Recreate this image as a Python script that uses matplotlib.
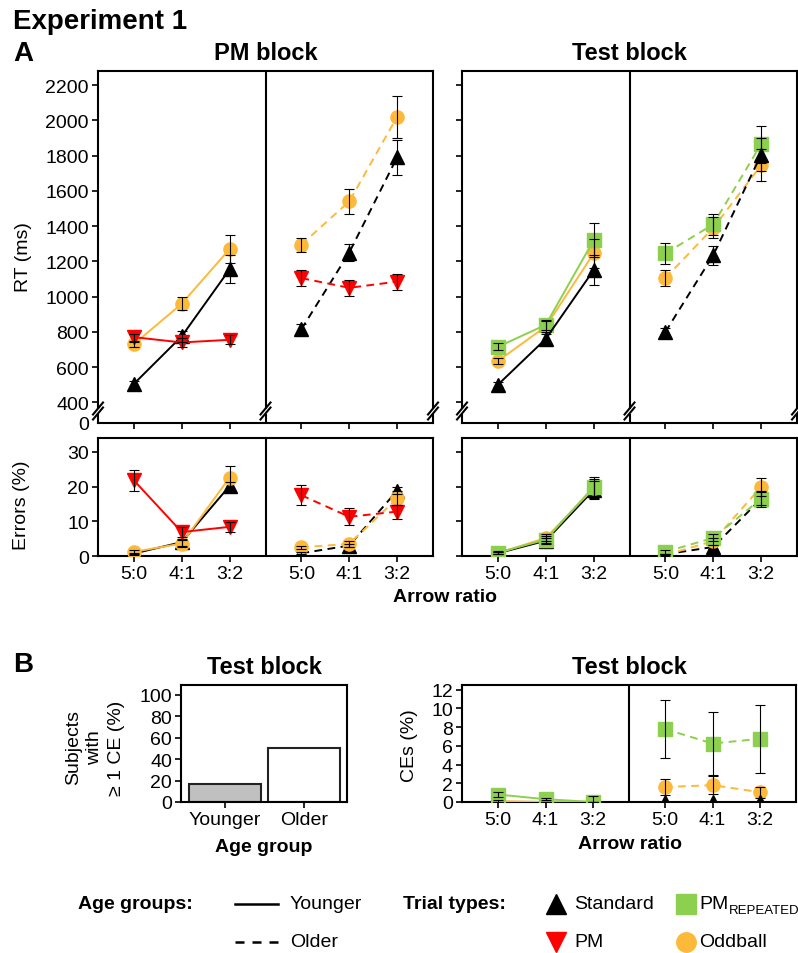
import matplotlib
matplotlib.use("Agg")
import matplotlib.pyplot as plt
from matplotlib.lines import Line2D
from matplotlib.patches import Rectangle

plt.rcParams["font.family"] = ["Liberation Sans", "DejaVu Sans"]

W, H = 798, 954

# colours
BLACK = "#000000"
RED = "#FF0000"
ORANGE = "#FDB93A"
GREEN = "#8DCF4E"

# ---- data -------------------------------------------------------------
ratios = ["5:0", "4:1", "3:2"]

# RT (ms), PM block
rt_pm_std_young = [505, 775, 1155]
rt_pm_std_young_se = [15, 30, 80]
rt_pm_odd_young = [730, 960, 1270]
rt_pm_odd_young_se = [15, 35, 80]
rt_pm_pm_young = [770, 740, 755]
rt_pm_pm_young_se = [20, 25, 25]
rt_pm_std_old = [815, 1250, 1790]
rt_pm_std_old_se = [30, 50, 100]
rt_pm_odd_old = [1295, 1540, 2020]
rt_pm_odd_old_se = [40, 70, 120]
rt_pm_pm_old = [1105, 1050, 1085]
rt_pm_pm_old_se = [45, 45, 45]

# RT (ms), Test block
rt_t_std_young = [500, 760, 1150]
rt_t_std_young_se = [15, 30, 85]
rt_t_odd_young = [635, 830, 1245]
rt_t_odd_young_se = [15, 30, 80]
rt_t_rep_young = [715, 840, 1320]
rt_t_rep_young_se = [20, 30, 95]
rt_t_std_old = [800, 1235, 1805]
rt_t_std_old_se = [20, 55, 95]
rt_t_odd_old = [1105, 1390, 1745]
rt_t_odd_old_se = [45, 60, 90]
rt_t_rep_old = [1245, 1410, 1865]
rt_t_rep_old_se = [60, 60, 105]

# Errors (%), PM block
er_pm_std_young = [0.7, 4.0, 20.2]
er_pm_std_young_se = [0.3, 1.0, 1.2]
er_pm_odd_young = [1.2, 3.6, 22.6]
er_pm_odd_young_se = [0.5, 1.0, 3.2]
er_pm_pm_young = [21.8, 6.9, 8.4]
er_pm_pm_young_se = [3.0, 1.5, 1.5]
er_pm_std_old = [0.8, 3.0, 18.8]
er_pm_std_old_se = [0.3, 0.5, 1.0]
er_pm_odd_old = [2.5, 3.5, 16.6]
er_pm_odd_old_se = [0.5, 0.8, 2.0]
er_pm_pm_old = [17.5, 11.3, 12.8]
er_pm_pm_old_se = [2.9, 2.5, 2.0]

# Errors (%), Test block
er_t_std_young = [0.8, 4.4, 19.0]
er_t_std_young_se = [0.3, 0.8, 2.5]
er_t_odd_young = [0.8, 5.2, 19.5]
er_t_odd_young_se = [0.3, 1.0, 2.8]
er_t_rep_young = [1.0, 4.7, 19.9]
er_t_rep_young_se = [0.4, 1.0, 3.0]
er_t_std_old = [0.5, 2.6, 16.5]
er_t_std_old_se = [0.2, 0.5, 1.8]
er_t_odd_old = [0.3, 4.3, 19.9]
er_t_odd_old_se = [0.2, 1.0, 2.5]
er_t_rep_old = [1.2, 5.2, 16.5]
er_t_rep_old_se = [0.5, 1.0, 2.3]

# Subjects with >= 1 CE (%)
age_groups = ["Younger", "Older"]
subjects_ce = [16.7, 50.0]

# CEs (%), Test block
ce_std_young = [0.0, 0.0, 0.0]
ce_std_young_se = [0.0, 0.0, 0.0]
ce_odd_young = [0.1, 0.0, 0.0]
ce_odd_young_se = [0.1, 0.0, 0.0]
ce_rep_young = [0.8, 0.3, 0.0]
ce_rep_young_se = [0.3, 0.1, 0.6]
ce_std_old = [0.0, 0.0, 0.0]
ce_std_old_se = [0.0, 0.0, 0.0]
ce_odd_old = [1.6, 1.8, 1.05]
ce_odd_old_se = [0.9, 0.95, 0.6]
ce_rep_old = [7.8, 6.25, 6.75]
ce_rep_old_se = [3.05, 3.4, 3.65]

# ---- layout helpers ----------------------------------------------------
X_YOUNG = [0, 1, 2]
X_OLD = [3.5, 4.5, 5.5]
DIVIDER = 2.75
SOLID = "-"
DASHED = (0, (4, 2.8))
SPINE_W = 1.5
FS = 14


def rect(x0, y0, x1, y1):
    return [x0 / W, 1 - y1 / H, (x1 - x0) / W, (y1 - y0) / H]


def ftext(x, y, s, **kw):
    kw.setdefault("va", "center")
    fig.text(x / W, 1 - y / H, s, **kw)


def style(ax, ylabels=True):
    for sp in ax.spines.values():
        sp.set_linewidth(SPINE_W)
    ax.tick_params(direction="out", length=4.5, width=1.2, labelsize=FS, pad=2)
    if not ylabels:
        ax.tick_params(axis="y", labelleft=False)


def group_axes(r, xlabels):
    ax = fig.add_axes(r)
    ax.set_xlim(-0.75, 6.25)
    ax.axvline(DIVIDER, color="black", lw=SPINE_W, zorder=6)
    ax.set_xticks(X_YOUNG + X_OLD)
    if xlabels:
        ax.set_xticklabels(ratios * 2)
    else:
        ax.set_xticklabels([])
    return ax


def series(ax, x, y, se, color, marker, ls, z):
    ax.plot(x, y, color=color, ls=ls, lw=1.4, marker=marker, ms=9.5,
            mec=color, mfc=color, zorder=z)
    ax.errorbar(x, y, yerr=se, fmt="none", ecolor="black", elinewidth=0.8,
                capsize=3.5, capthick=0.8, zorder=5)


def breaks(ax):
    # "//" scale-break marks at the bottom of the vertical lines
    bb = ax.get_position()
    aw, ah = bb.width * W, bb.height * H
    yc = 12.0 / ah
    for xa in (0.0, (DIVIDER + 0.75) / 7.0, 1.0):
        ax.add_patch(Rectangle((xa - 3 / aw, yc - 2.5 / ah), 6 / aw, 5 / ah,
                               transform=ax.transAxes, color="white",
                               clip_on=False, zorder=7, lw=0))
        for dy in (-2.5, 2.5):
            ax.plot([xa - 5 / aw, xa + 5 / aw],
                    [yc + (dy - 6) / ah, yc + (dy + 6) / ah],
                    transform=ax.transAxes, color="black", lw=1.5,
                    clip_on=False, zorder=8)


fig = plt.figure(figsize=(W / 100, H / 100), dpi=100)

RT_BOTTOM = 283
RT_TICKS = [400, 600, 800, 1000, 1200, 1400, 1600, 1800, 2000, 2200]

# ---- A: RT, PM block -----------------------------------------------------
ax = group_axes(rect(98, 72, 433, 424), False)
series(ax, X_YOUNG, rt_pm_odd_young, rt_pm_odd_young_se, ORANGE, "o", SOLID, 2)
series(ax, X_YOUNG, rt_pm_std_young, rt_pm_std_young_se, BLACK, "^", SOLID, 3)
series(ax, X_YOUNG, rt_pm_pm_young, rt_pm_pm_young_se, RED, "v", SOLID, 4)
series(ax, X_OLD, rt_pm_odd_old, rt_pm_odd_old_se, ORANGE, "o", DASHED, 2)
series(ax, X_OLD, rt_pm_std_old, rt_pm_std_old_se, BLACK, "^", DASHED, 3)
series(ax, X_OLD, rt_pm_pm_old, rt_pm_pm_old_se, RED, "v", DASHED, 4)
ax.set_ylim(RT_BOTTOM, 2280)
ax.set_yticks([RT_BOTTOM] + RT_TICKS)
ax.set_yticklabels(["0"] + [str(t) for t in RT_TICKS])
style(ax)
ax.yaxis.get_major_ticks()[0].tick1line.set_visible(False)
breaks(ax)

# ---- A: RT, Test block ---------------------------------------------------
ax = group_axes(rect(462, 72, 797, 424), False)
series(ax, X_YOUNG, rt_t_odd_young, rt_t_odd_young_se, ORANGE, "o", SOLID, 2)
series(ax, X_YOUNG, rt_t_rep_young, rt_t_rep_young_se, GREEN, "s", SOLID, 3)
series(ax, X_YOUNG, rt_t_std_young, rt_t_std_young_se, BLACK, "^", SOLID, 4)
series(ax, X_OLD, rt_t_odd_old, rt_t_odd_old_se, ORANGE, "o", DASHED, 2)
series(ax, X_OLD, rt_t_rep_old, rt_t_rep_old_se, GREEN, "s", DASHED, 3)
series(ax, X_OLD, rt_t_std_old, rt_t_std_old_se, BLACK, "^", DASHED, 4)
ax.set_ylim(RT_BOTTOM, 2280)
ax.set_yticks(RT_TICKS)
style(ax, ylabels=False)
breaks(ax)

# ---- A: Errors, PM block -------------------------------------------------
ax = group_axes(rect(98, 439, 433, 557), True)
series(ax, X_YOUNG, er_pm_odd_young, er_pm_odd_young_se, ORANGE, "o", SOLID, 3)
series(ax, X_YOUNG, er_pm_std_young, er_pm_std_young_se, BLACK, "^", SOLID, 2)
series(ax, X_YOUNG, er_pm_pm_young, er_pm_pm_young_se, RED, "v", SOLID, 4)
series(ax, X_OLD, er_pm_odd_old, er_pm_odd_old_se, ORANGE, "o", DASHED, 3)
series(ax, X_OLD, er_pm_std_old, er_pm_std_old_se, BLACK, "^", DASHED, 2)
series(ax, X_OLD, er_pm_pm_old, er_pm_pm_old_se, RED, "v", DASHED, 4)
ax.set_ylim(0, 34)
ax.set_yticks([0, 10, 20, 30])
style(ax)

# ---- A: Errors, Test block -----------------------------------------------
ax = group_axes(rect(462, 439, 797, 557), True)
series(ax, X_YOUNG, er_t_std_young, er_t_std_young_se, BLACK, "^", SOLID, 2)
series(ax, X_YOUNG, er_t_odd_young, er_t_odd_young_se, ORANGE, "o", SOLID, 3)
series(ax, X_YOUNG, er_t_rep_young, er_t_rep_young_se, GREEN, "s", SOLID, 4)
series(ax, X_OLD, er_t_std_old, er_t_std_old_se, BLACK, "^", DASHED, 2)
series(ax, X_OLD, er_t_odd_old, er_t_odd_old_se, ORANGE, "o", DASHED, 3)
series(ax, X_OLD, er_t_rep_old, er_t_rep_old_se, GREEN, "s", DASHED, 4)
ax.set_ylim(0, 34)
ax.set_yticks([0, 10, 20, 30])
style(ax, ylabels=False)

# ---- B: subjects with >= 1 CE --------------------------------------------
ax = fig.add_axes(rect(181, 686, 347, 803))
ax.bar(range(len(age_groups)), subjects_ce, width=0.905,
       color=["#C0C0C0", "white"], edgecolor="#222222", lw=1.5)
ax.set_xlim(-0.553, 1.535)
ax.set_ylim(0, 109.3)
ax.set_yticks([0, 20, 40, 60, 80, 100])
ax.set_xticks(range(len(age_groups)))
ax.set_xticklabels(age_groups)
style(ax)

# ---- B: CEs, Test block --------------------------------------------------
ax = group_axes(rect(462, 686, 796, 803), True)
series(ax, X_YOUNG, ce_std_young, ce_std_young_se, BLACK, "^", SOLID, 2)
series(ax, X_YOUNG, ce_odd_young, ce_odd_young_se, ORANGE, "o", SOLID, 3)
series(ax, X_YOUNG, ce_rep_young, ce_rep_young_se, GREEN, "s", SOLID, 4)
series(ax, X_OLD, ce_std_old, ce_std_old_se, BLACK, "^", DASHED, 4)
series(ax, X_OLD, ce_odd_old, ce_odd_old_se, ORANGE, "o", DASHED, 3)
series(ax, X_OLD, ce_rep_old, ce_rep_old_se, GREEN, "s", DASHED, 2)
ax.set_ylim(0, 12.5)
ax.set_yticks([0, 2, 4, 6, 8, 10, 12])
style(ax)

# ---- titles and labels ---------------------------------------------------
ftext(13, 22, "Experiment 1", fontsize=20, fontweight="bold")
ftext(13, 54, "A", fontsize=20, fontweight="bold")
ftext(265.5, 53, "PM block", fontsize=17, fontweight="bold", ha="center")
ftext(629.5, 53, "Test block", fontsize=17, fontweight="bold", ha="center")
ftext(445, 598, "Arrow ratio", fontsize=FS, fontweight="bold", ha="center")
ftext(23, 257, "RT (ms)", fontsize=FS, rotation=90, ha="center")
ftext(22, 505, "Errors (%)", fontsize=FS, rotation=90, ha="center")

ftext(13, 665, "B", fontsize=20, fontweight="bold")
ftext(264, 667, "Test block", fontsize=17, fontweight="bold", ha="center")
ftext(629, 667, "Test block", fontsize=17, fontweight="bold", ha="center")
ftext(264, 848, "Age group", fontsize=FS, fontweight="bold", ha="center")
ftext(630, 845, "Arrow ratio", fontsize=FS, fontweight="bold", ha="center")
ftext(95, 748, "Subjects\nwith\n\u2265 1 CE (%)", fontsize=FS, rotation=90,
      ha="center", multialignment="center", linespacing=1.35)
ftext(409, 746, "CEs (%)", fontsize=FS, rotation=90, ha="center")

# ---- legend ---------------------------------------------------------------
ROW1, ROW2 = 905, 943
ftext(78, ROW1, "Age groups:", fontsize=FS, fontweight="bold")
fig.add_artist(Line2D([235 / W, 278 / W], [1 - ROW1 / H] * 2, color="black",
                      lw=1.8, transform=fig.transFigure))
fig.add_artist(Line2D([235 / W, 278 / W], [1 - ROW2 / H] * 2, color="black",
                      lw=1.8, ls=(0, (3.6, 3.2)), transform=fig.transFigure))
ftext(290, ROW1, "Younger", fontsize=FS)
ftext(290, ROW2, "Older", fontsize=FS)

ftext(403, ROW1, "Trial types:", fontsize=FS, fontweight="bold")
for mx, my, mk, col in [(556, ROW1, "^", BLACK), (556, ROW2, "v", RED),
                        (686, ROW1, "s", GREEN), (686, ROW2, "o", ORANGE)]:
    fig.add_artist(Line2D([mx / W], [1 - my / H], marker=mk, ms=14, color=col,
                          ls="none", transform=fig.transFigure))
ftext(574, ROW1, "Standard", fontsize=FS)
ftext(574, ROW2, "PM", fontsize=FS)
ftext(699, ROW1, "PM", fontsize=FS)
ftext(729, ROW1 + 6, "REPEATED", fontsize=9.5)
ftext(699, ROW2, "Oddball", fontsize=FS)

fig.savefig("out.png", dpi=100)
